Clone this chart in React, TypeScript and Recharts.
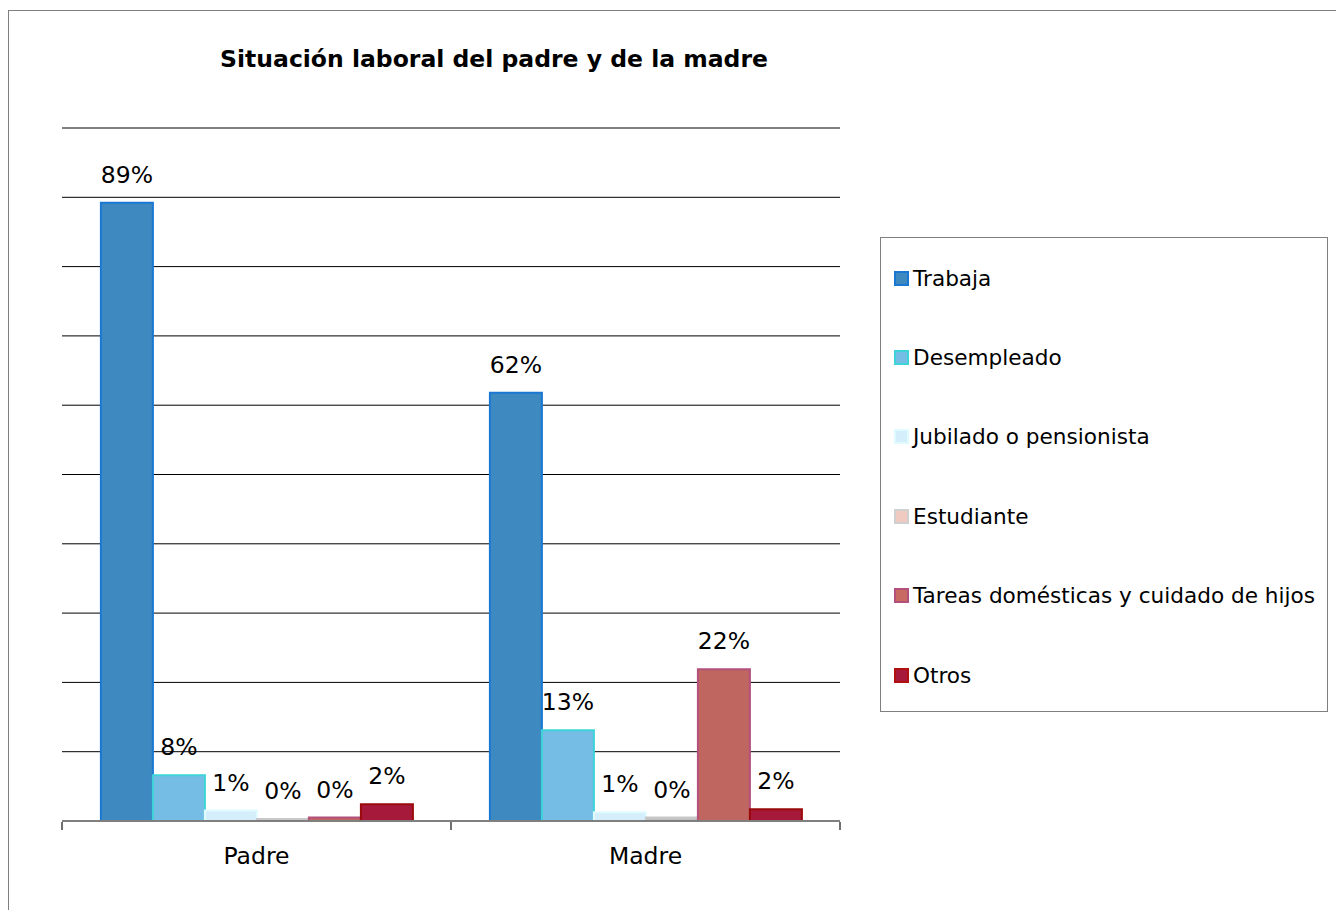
import { BarChart, Bar, XAxis, YAxis, CartesianGrid, LabelList } from "recharts"

const categories = ["Padre", "Madre"]

const trabaja = [0.892, 0.618]
const desempleado = [0.066, 0.131]
const jubilado = [0.015, 0.0125]
const estudiante = [0.003, 0.005]
const tareas = [0.005, 0.219]
const otros = [0.024, 0.017]

const trabajaLabels = ["89%", "62%"]
const desempleadoLabels = ["8%", "13%"]
const jubiladoLabels = ["1%", "1%"]
const estudianteLabels = ["0%", "0%"]
const tareasLabels = ["0%", "22%"]
const otrosLabels = ["2%", "2%"]

const yTicks = [0, 0.1, 0.2, 0.3, 0.4, 0.5, 0.6, 0.7, 0.8, 0.9, 1]

const series = [
    { key: "trabaja", name: "Trabaja", values: trabaja, labels: trabajaLabels, fill: "#3D89C0", stroke: "#1B78D2", legendFill: "#3D89C0", legendStroke: "#1B78D2" },
    { key: "desempleado", name: "Desempleado", values: desempleado, labels: desempleadoLabels, fill: "#75BDE4", stroke: "#3ED3D8", legendFill: "#75BDE4", legendStroke: "#3ED3D8" },
    { key: "jubilado", name: "Jubilado o pensionista", values: jubilado, labels: jubiladoLabels, fill: "#D5EEFB", stroke: "#E0FBFF", legendFill: "#D5EEFB", legendStroke: "#E0FBFF" },
    { key: "estudiante", name: "Estudiante", values: estudiante, labels: estudianteLabels, fill: "#C0C0C0", stroke: "#C8C8C8", legendFill: "#F0C9C1", legendStroke: "#D0D0D0" },
    { key: "tareas", name: "Tareas domésticas y cuidado de hijos", values: tareas, labels: tareasLabels, fill: "#BE665F", stroke: "#B3507B", legendFill: "#C86A62", legendStroke: "#B3507B" },
    { key: "otros", name: "Otros", values: otros, labels: otrosLabels, fill: "#A6193A", stroke: "#9B0A0A", legendFill: "#A6193A", legendStroke: "#B01010" },
]

const data = categories.map((cat, i) => {
    const row: any = { cat, pos: i + 0.5 }
    series.forEach(s => {
        row[s.key] = s.values[i]
        row[s.key + "Label"] = s.labels[i]
    })
    return row
})

const font = "'DejaVu Sans', Verdana, sans-serif"

const App = () => {
    return (
        <div style={{ position: "absolute", left: 0, top: 0, width: 1336, height: 910, overflow: "hidden", fontFamily: font }}>
            <div style={{ position: "absolute", left: 8, top: 10, width: 1340, height: 910, border: "1px solid #7F7F7F" }} />
            <div style={{ position: "absolute", left: 0, top: 45, width: 988, textAlign: "center", fontWeight: "bold", fontSize: 23.5, color: "#000" }}>
                Situación laboral del padre y de la madre
            </div>
            <div style={{ position: "absolute", left: 0, top: 0 }}>
                <BarChart width={1336} height={910} data={data} barCategoryGap="10%" barGap={0}
                    margin={{ top: 128, right: 496, left: 62, bottom: 87 }}>
                    <CartesianGrid xAxisId="cat" vertical={false} stroke="#000" strokeWidth={1} />
                    <XAxis xAxisId="cat" dataKey="cat" height={1} tickLine={false} tickSize={0} tickMargin={26}
                        axisLine={{ stroke: "#7F7F7F", strokeWidth: 2 }}
                        tick={{ fill: "#000", fontSize: 23.5, fontFamily: font }} />
                    {/* boundary ticks between the two groups */}
                    <XAxis xAxisId="num" type="number" dataKey="pos" domain={[0, 2]} ticks={[0, 1, 2]}
                        tick={() => <g />} axisLine={false} height={1} tickSize={8}
                        tickLine={{ stroke: "#404040", strokeWidth: 1.5 }} />
                    <YAxis hide domain={[0, 1]} ticks={yTicks} />
                    {series.map(s => (
                        <Bar key={s.key} xAxisId="cat" dataKey={s.key} name={s.name} fill={s.fill}
                            stroke={s.stroke} strokeWidth={2} isAnimationActive={false}>
                            <LabelList dataKey={s.key + "Label"} position="top" offset={20}
                                style={{ fill: "#000", fontSize: 23.5, fontFamily: font }} />
                        </Bar>
                    ))}
                </BarChart>
            </div>
            <div style={{ position: "absolute", left: 880, top: 237, width: 448, height: 475, border: "1px solid #7F7F7F", boxSizing: "border-box" }}>
                {series.map((s, i) => (
                    <div key={s.key} style={{ position: "absolute", left: 13, top: 26 + i * 79.4, height: 28, display: "flex", alignItems: "center", fontSize: 21.6, color: "#000", whiteSpace: "nowrap" }}>
                        <span style={{ display: "inline-block", width: 11, height: 11, background: s.legendFill, border: "2px solid " + s.legendStroke, marginRight: 4 }} />
                        {s.name}
                    </div>
                ))}
            </div>
        </div>
    )
}

export default App
